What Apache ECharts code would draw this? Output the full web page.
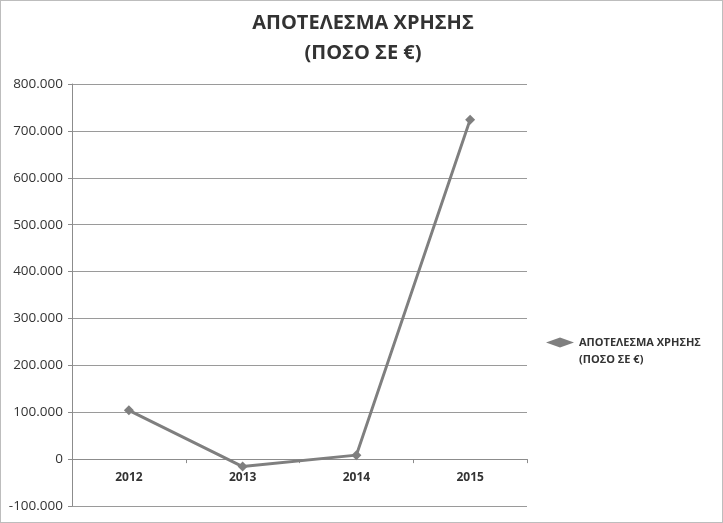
<!DOCTYPE html>
<html>
<head>
<meta charset="utf-8">
<script src="https://cdn.jsdelivr.net/npm/echarts@6/dist/echarts.min.js"></script>
<style>
html,body{margin:0;padding:0;background:#fff;}
#c{width:723px;height:523px;box-sizing:border-box;border:1px solid #bdbdbd;}
</style>
</head>
<body>
<div id="c"></div>
<script>
const titleText = 'ΑΠΟΤΕΛΕΣΜΑ ΧΡΗΣΗΣ\n(ΠΟΣΟ ΣΕ €)';
const seriesName = 'ΑΠΟΤΕΛΕΣΜΑ ΧΡΗΣΗΣ\n(ΠΟΣΟ ΣΕ €)';
const years = ['2012', '2013', '2014', '2015'];
const values = [104000, -16000, 8500, 724000];
const yMin = -100000, yMax = 800000, yStep = 100000;

function fmt(v) {
  if (v === 0) return '0';
  const s = Math.abs(v).toString().replace(/\B(?=(\d{3})+(?!\d))/g, '.');
  return (v < 0 ? '-' : '') + s;
}

const chart = echarts.init(document.getElementById('c'), null, {renderer: 'canvas'});
chart.setOption({
  animation: false,
  backgroundColor: '#fff',
  title: {
    text: titleText,
    left: 357, top: 2, textAlign: 'center',
    textStyle: {fontFamily: 'Open Sans', fontWeight: 'bold', fontSize: 20, lineHeight: 30, color: '#333'}
  },
  legend: {
    orient: 'vertical',
    left: 545, top: 316, padding: 0,
    itemWidth: 28, itemHeight: 10, itemGap: 4,
    formatter: function (n) { return ' \n' + n; },
    textStyle: {fontFamily: 'Open Sans', fontWeight: 'bold', fontSize: 11, lineHeight: 17, color: '#333'},
    data: [{name: seriesName, icon: 'diamond'}]
  },
  grid: {left: 71, right: 195, top: 83, bottom: 16, outerBoundsMode: 'none', containLabel: false},
  xAxis: {
    type: 'category',
    data: years,
    boundaryGap: true,
    axisLine: {onZero: false, lineStyle: {color: '#8c8c8c', width: 1}},
    axisTick: {show: true, length: 4, inside: false, lineStyle: {color: '#8c8c8c'}},
    axisLabel: {fontFamily: 'Open Sans', fontWeight: 'bold', fontSize: 12, color: '#333', margin: 12}
  },
  yAxis: {
    type: 'value',
    min: yMin, max: yMax, interval: yStep,
    axisLine: {show: true, lineStyle: {color: '#8c8c8c', width: 1}},
    axisTick: {show: true, length: 4, lineStyle: {color: '#8c8c8c'}},
    axisLabel: {fontFamily: 'Open Sans', fontSize: 13.5, color: '#333', margin: 9, formatter: fmt},
    splitLine: {show: true, lineStyle: {color: '#9a9a9a', width: 1}}
  },
  series: [{
    name: seriesName,
    type: 'line',
    data: values,
    symbol: 'diamond',
    symbolSize: 10,
    lineStyle: {color: '#7f7f7f', width: 3},
    itemStyle: {color: '#7f7f7f'}
  }]
});
// Move the category axis (line, ticks, labels) up to the value 0 using the library's own scale
const zeroY = chart.convertToPixel({yAxisIndex: 0}, 0);
const bottomY = chart.convertToPixel({yAxisIndex: 0}, yMin);
chart.setOption({xAxis: {offset: -(bottomY - zeroY)}});
</script>
</body>
</html>
